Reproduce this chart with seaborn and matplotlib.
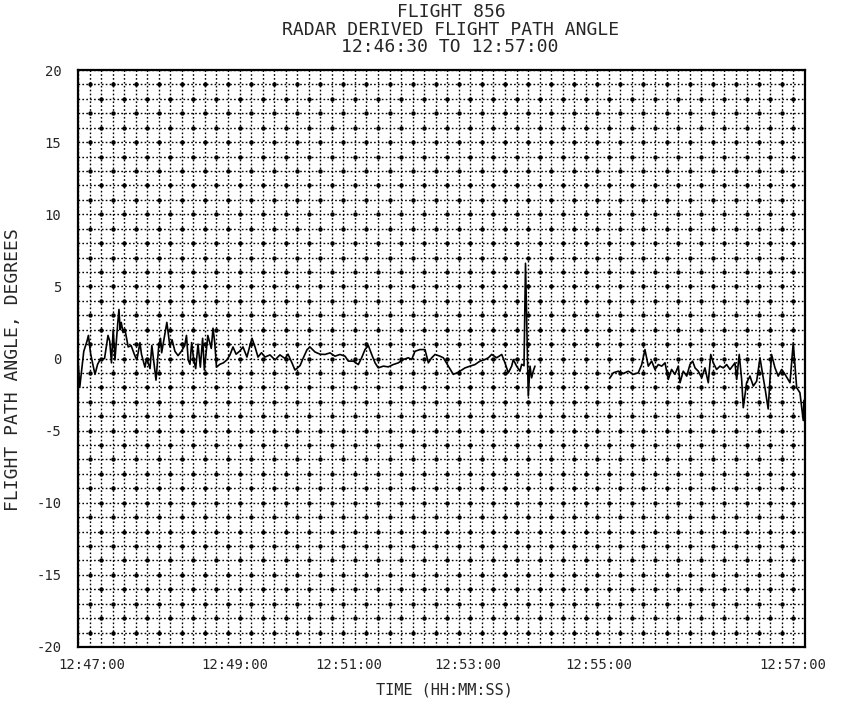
import numpy as np
import pandas as pd
import matplotlib
matplotlib.use("Agg")
import matplotlib.pyplot as plt
from matplotlib.transforms import ScaledTranslation
import seaborn as sns

# ---- data (time in seconds after 12:46:30, angle in degrees) ----
t_seg1 = [0, 1.5, 5, 7.8, 9, 11, 14.7, 17, 19, 23, 26, 27.5, 29, 30.5, 32, 34.5, 35.5, 36.5,
          37.5, 39, 40.7, 43.5, 46, 49, 51, 53.7, 55, 58, 59.5, 62.4, 64, 67.6, 70, 71.5, 72.5,
          75.4, 77, 79.7, 81.5, 84, 86.7, 89.6, 92.5, 94, 95.5, 97, 98.5, 100.3, 102, 104, 106,
          108, 109.5, 112.5, 115.5, 117, 118.5, 120, 123, 126, 129, 131.7, 134.3, 137, 140, 143,
          146.4, 149, 150.8, 153.4, 156, 159, 162, 166.4, 170.7, 175, 179.4, 182, 185.4, 188,
          192.4, 195, 198.4, 201, 205.4, 209.7, 214, 218.4, 222.7, 227, 231.4, 234.2, 238.6,
          242.9, 245.8, 248.7, 251.6, 254.5, 257.4, 260.2, 264.6, 268.9, 273.2, 277.6, 281.9,
          286.2, 289.2, 292, 296.4, 300.7, 303.6, 306.5, 309.4, 313.7, 316.6, 320.9, 325.2,
          328.2, 331, 335.4, 339.7, 344, 348.4, 352.7, 355.6, 358.5, 362.8, 367.2, 370, 372.9,
          375.8, 377.2, 380.1, 383, 384.5, 386.5, 387.8, 390.2, 391.7, 393.1, 394.5, 396]
a_seg1 = [0.0, -2.0, 0.5, 1.2, 1.6, 0.3, -1.1, -0.4, -0.1, 0.0, 1.6, 1.2, -0.3, 2.0, -0.1, 2.5,
          3.4, 2.0, 2.5, 1.8, 2.0, 0.8, 0.9, 0.25, -0.1, 1.1, 0.3, -0.6, 0.0, -0.7, 0.9, -1.5,
          0.9, 1.4, 0.4, 1.75, 2.5, 0.8, 1.3, 0.5, 0.2, 0.5, 0.9, 1.6, -0.1, -0.4, 1.1, -0.1,
          -0.7, 1.0, -0.6, 1.4, -0.8, 1.6, 0.7, 2.1, 1.1, -0.6, -0.4, -0.3, -0.1, 0.25, 0.8, 0.3,
          0.5, 0.8, 0.1, 0.9, 1.4, 0.8, 0.1, 0.4, 0.1, 0.25, -0.1, 0.25, 0.0, 0.3, -0.3, -0.8,
          -0.5, 0.0, 0.6, 0.8, 0.45, 0.3, 0.28, 0.39, 0.16, 0.28, 0.16, -0.18, -0.18, -0.42,
          0.05, 0.62, 0.9, 0.28, -0.3, -0.65, -0.53, -0.58, -0.42, -0.3, -0.07, 0.05, -0.07,
          0.5, 0.62, 0.62, -0.3, 0.05, 0.28, 0.16, 0.05, -0.53, -1.1, -1.0, -0.88, -0.65, -0.53,
          -0.42, -0.18, -0.07, 0.05, 0.28, 0.05, 0.28, -0.3, -1.0, -0.53, -0.07, -0.53, -0.88,
          -0.4, -0.5, 6.6, -2.6, -0.53, -1.34, -0.88, -0.53]

t_seg2 = [461, 463.9, 468.2, 472.5, 476.9, 481.2, 485.5, 488.5, 491.3, 494.2, 497.1, 500, 502.9,
          505.8, 508.7, 511.5, 514.4, 517.3, 520.2, 521.7, 524.5, 527.5, 530.3, 532.6, 534.7,
          537.5, 540.5, 543.3, 546.2, 548.3, 550.5, 553.4, 556.3, 559.2, 562.1, 565, 569.3,
          570.8, 573, 575.1, 576.5, 579.4, 582.3, 585.2, 588.1, 591, 593.3, 595.3, 598.1, 601,
          604, 606.8, 609.8, 612.7, 617, 619.8, 622.8, 625.6, 628.5, 629.1]
a_seg2 = [-1.34, -0.99, -0.88, -1.04, -0.88, -1.1, -0.99, -0.42, 0.62, -0.53, -0.18, -0.76,
          -0.42, -0.53, -0.3, -1.45, -0.76, -1.1, -0.53, -1.68, -0.88, -1.22, -0.42, -0.18,
          -0.65, -0.88, -1.34, -0.65, -1.68, 0.28, -0.3, -0.76, -0.53, -0.65, -0.42, -0.76,
          -0.3, -1.45, 0.28, -1.45, -3.41, -1.68, -1.22, -1.91, -1.57, 0.05, -1.1, -2.03,
          -3.5, 0.28, -0.65, -1.22, -0.76, -1.1, -1.68, 1.09, -2.03, -2.37, -4.3, -2.9]

xtick_secs = [30, 150, 270, 390, 510, 630]
xtick_labels = ["12:47:00", "12:49:00", "12:51:00", "12:53:00", "12:55:00", "12:57:00"]
ytick_vals = [20, 15, 10, 5, 0, -5, -10, -15, -20]
ytick_labels = ["20", "15", "10", "5", "0", "-5", "-10", "-15", "-20"]

df = pd.concat([
    pd.DataFrame({"t": t_seg1, "angle": a_seg1, "seg": 1}),
    pd.DataFrame({"t": t_seg2, "angle": a_seg2, "seg": 2}),
], ignore_index=True)

sns.set_style("white")
plt.rcParams["font.family"] = ["DejaVu Sans Mono", "DejaVu Sans"]

fig = plt.figure(figsize=(8.52, 7.05), dpi=100)
ax = fig.add_axes([78 / 852, 1 - 647 / 705, (805 - 78) / 852, (647 - 70) / 705])

# grid (dotted) with dotted intersections
for xv in np.arange(0, 631, 10):
    ax.axvline(xv, color="black", lw=1.0, ls=(0, (1.2, 1.6)), zorder=0)
for yv in np.arange(-20, 21, 1):
    ax.axhline(yv, color="black", lw=1.0, ls=(0, (1.2, 1.6)), zorder=0)
gx, gy = np.meshgrid(np.arange(10, 630, 10), np.arange(-19, 20, 1))
mask = ((gx // 10) + gy) % 2 == 0
ax.scatter(gx[mask], gy[mask], s=10, color="black", linewidths=0, zorder=1)

sns.lineplot(data=df, x="t", y="angle", units="seg", estimator=None,
             color="black", lw=1.2, ax=ax, zorder=3)

ax.set_xlim(0, 630)
ax.set_ylim(-20, 20)
ax.set_xticks(xtick_secs)
ax.set_xticklabels(xtick_labels, fontsize=10)
ax.set_yticks(ytick_vals)
ax.set_yticklabels(ytick_labels, fontsize=10)
ax.tick_params(axis="both", direction="in", length=9, width=1.5, color="black")
ax.tick_params(axis="x", pad=8)
ax.tick_params(axis="y", pad=12)
for s in ax.spines.values():
    s.set_visible(True)
    s.set_color("black")
    s.set_linewidth(1.6)

# shift x labels to their positions in the original plot
offsets_px = [-21, -16, -41, -60, -68, -12]
for lab, dx in zip(ax.get_xticklabels(), offsets_px):
    lab.set_transform(lab.get_transform() + ScaledTranslation(dx / 100, 0, fig.dpi_scale_trans))

ax.set_xlabel("")
ax.set_ylabel("")
fig.text(444 / 852, 1 - 690 / 705, "TIME (HH:MM:SS)", ha="center", va="center", fontsize=11)
fig.text(13 / 852, 1 - 370 / 705, "FLIGHT PATH ANGLE, DEGREES", ha="center", va="center",
         rotation=90, fontsize=13)
fig.text(451 / 852, 1 - 12 / 705, "FLIGHT 856", ha="center", va="center", fontsize=13)
fig.text(451 / 852, 1 - 30 / 705, "RADAR DERIVED FLIGHT PATH ANGLE", ha="center", va="center",
         fontsize=13)
fig.text(450 / 852, 1 - 47 / 705, "12:46:30 TO 12:57:00", ha="center", va="center", fontsize=13)

fig.savefig("out.png", dpi=100, facecolor="white")
